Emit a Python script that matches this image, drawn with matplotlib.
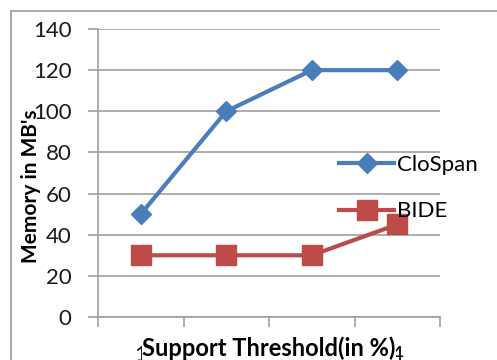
import matplotlib
matplotlib.use("Agg")
import matplotlib.pyplot as plt
from matplotlib.patches import Rectangle

plt.rcParams["font.family"] = ["Lato", "DejaVu Sans"]

categories = ["1", "2", "3", "4"]
clospan = [50, 100, 120, 120]
bide = [30, 30, 30, 45]
y_ticks = [0, 20, 40, 60, 80, 100, 120, 140]

BLUE = "#4a7ebb"
RED = "#be4b48"
GRID = "#a0a0a0"

fig = plt.figure(figsize=(4.97, 3.6), dpi=100)
fig.patches.append(Rectangle((11 / 497, -0.1), 1.2, (360 - 11) / 360 + 0.1,
                             transform=fig.transFigure, fill=False,
                             edgecolor="#9a9a9a", linewidth=1.2))

ax = fig.add_axes([98 / 497, 1 - 317 / 360, 342 / 497, 288 / 360])
x = range(len(categories))
ax.plot(x, clospan, color=BLUE, linewidth=3, marker="D", markersize=10,
        label="CloSpan", zorder=3)
ax.plot(x, bide, color=RED, linewidth=3, marker="s", markersize=14,
        label="BIDE", zorder=3, clip_on=False)

ax.set_xlim(-0.5, len(categories) - 0.5)
ax.set_ylim(0, 140)
ax.set_yticks(y_ticks)
ax.yaxis.grid(True, color=GRID, linewidth=1.2)
ax.set_axisbelow(True)
for side in ("top", "right"):
    ax.spines[side].set_visible(False)
for side in ("left", "bottom"):
    ax.spines[side].set_color(GRID)
    ax.spines[side].set_linewidth(1.2)

ax.tick_params(axis="y", length=7, width=1.2, color=GRID, labelsize=16,
               pad=12, labelcolor="#1a1a1a")
# category boundaries carry the ticks, labels sit at centres
ax.set_xticks([i - 0.5 for i in range(len(categories) + 1)], minor=False)
ax.set_xticklabels([])
ax.tick_params(axis="x", which="major", length=7, width=1.2, color=GRID)
ax.set_xticks(list(x), minor=True)
ax.set_xticklabels(categories, minor=True, fontsize=16)
ax.tick_params(axis="x", which="minor", length=0, pad=20)

ax.set_xlabel("Support Threshold(in %)", fontsize=17, fontweight="bold",
              bbox=dict(facecolor="white", edgecolor="none", pad=0))
ax.xaxis.set_label_coords(0.5, -0.066, transform=ax.transAxes)
ax.xaxis.label.set_va("top")
ax.set_ylabel("Memory in MB's", fontsize=15, fontweight="bold")
ax.yaxis.set_label_coords(41 / 497, 1 - 186 / 360, transform=fig.transFigure)

ax.legend(loc="center left", bbox_to_anchor=(330 / 497, 1 - 188 / 360),
          bbox_transform=fig.transFigure, frameon=False, fontsize=16,
          handlelength=2.5, handletextpad=0.1, labelspacing=1.2,
          borderaxespad=0)

fig.savefig("out.png", dpi=100, facecolor="white")
